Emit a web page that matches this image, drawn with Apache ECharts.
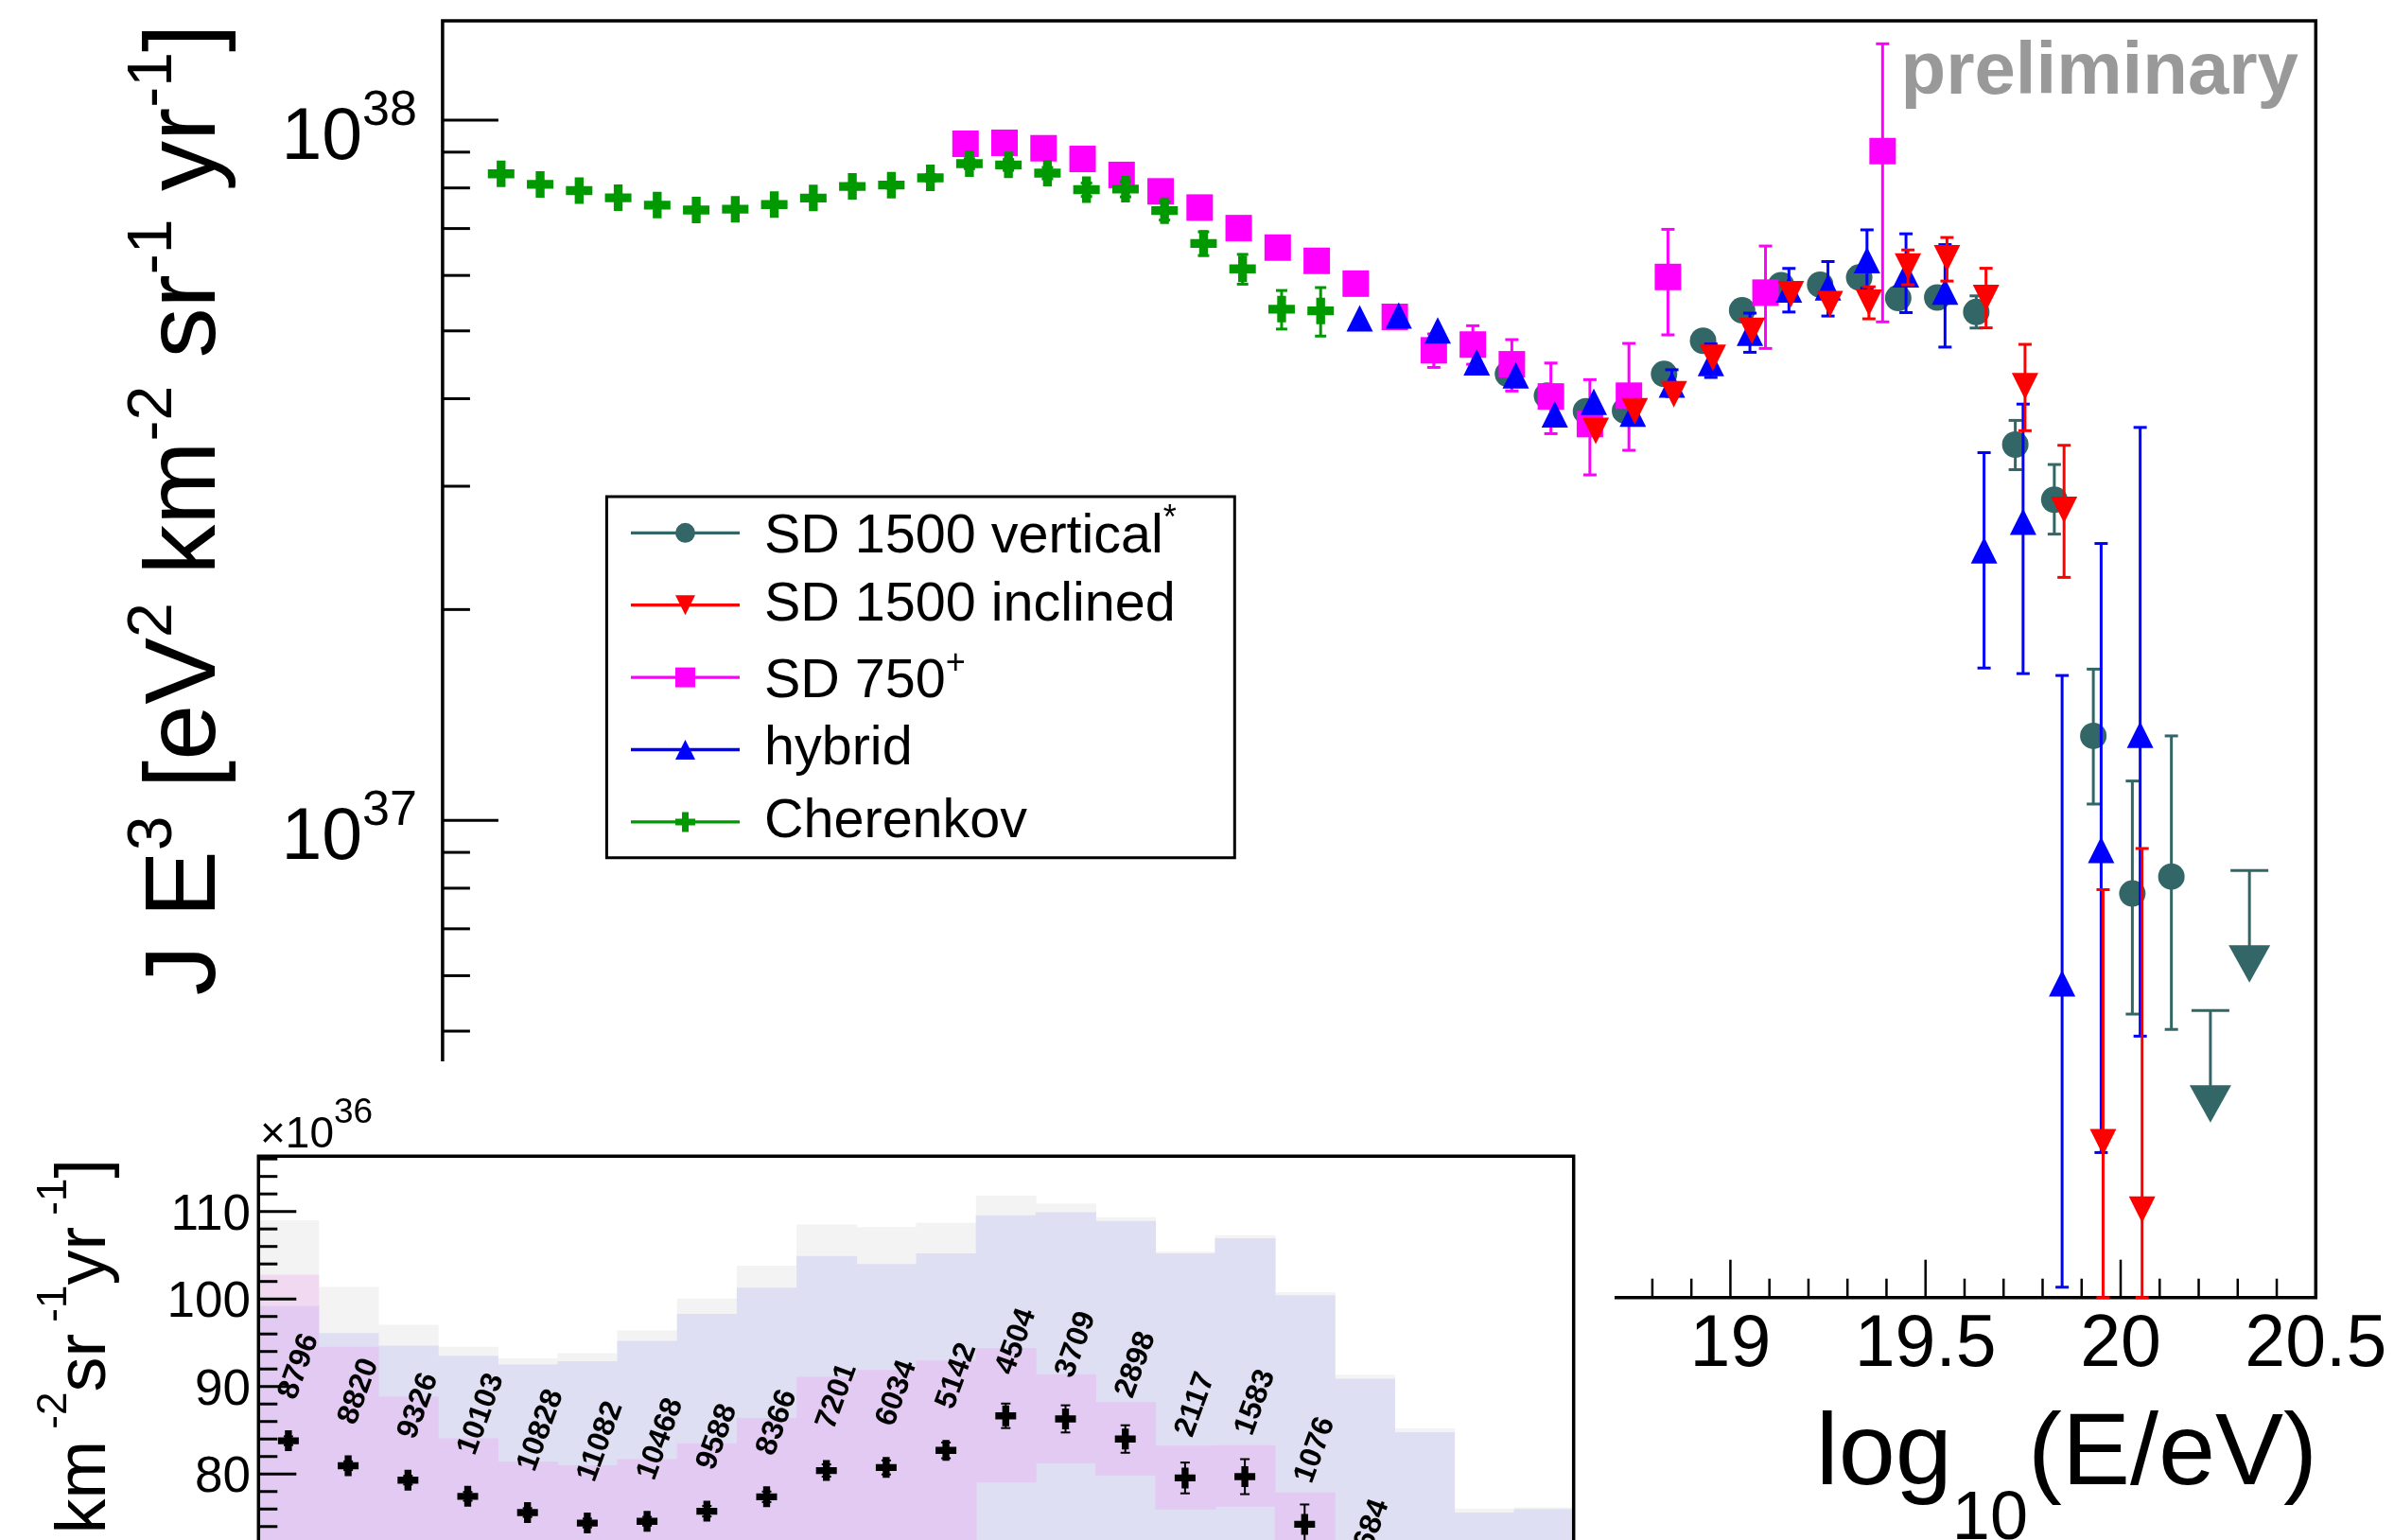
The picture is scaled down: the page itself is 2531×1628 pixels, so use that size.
<!DOCTYPE html>
<html>
<head>
<meta charset="utf-8">
<title>Energy spectrum</title>
<script src="https://cdn.jsdelivr.net/npm/echarts@6/dist/echarts.min.js"></script>
<style>
html,body{margin:0;padding:0;background:#ffffff;}
#chart{width:2531px;height:1628px;}
</style>
</head>
<body>
<div id="chart"></div>
<script>
// ================= DATA =================
// x: log10(E/eV); flux J E^3 in units of 1e36 eV^2 km^-2 sr^-1 yr^-1
const cherE = [15.85,15.95,16.05,16.15,16.25,16.35,16.45,16.55,16.65,16.75,16.85,16.95,17.05,17.15,17.25,17.35,17.45,17.55,17.65,17.75,17.85,17.95];
const cherJ = [83.8,80.95,79.3,77.45,75.6,74.4,74.6,75.75,77.4,80.4,80.75,82.7,86.65,86.3,84.0,79.55,79.7,74.25,66.65,61.3,53.7,53.4];
const cherErr = [0.5,0.5,0.5,0.5,0.5,0.5,0.5,0.6,0.6,0.7,0.8,0.9,1.4,1.55,1.57,1.76,2.0,2.27,2.6,3.0,3.4,4.25];
const cherCounts = ['8796','8820','9326','10103','10828','11082','10468','9588','8366','7201','6034','5142','4504','3709','2898','2117','1583','1076','684'];

const sd750E = [17.04,17.14,17.24,17.34,17.44,17.54,17.64,17.74,17.84,17.94,18.04,18.14,18.24,18.34,18.44,18.54,18.64,18.74,18.84,19.09,19.39];
const sd750J = [92.5,92.8,91.15,88.0,83.5,79.1,75.0,70.1,65.75,62.95,58.4,52.35,46.9,47.8,44.8,40.3,36.8,40.4,59.7,56.7,90.3];
const sd750Lo = [null,null,null,null,null,null,null,null,null,null,null,null,44.34,44.8,41.03,35.66,31.14,33.76,49.35,47.19,51.5];
const sd750Hi = [null,null,null,null,null,null,null,null,null,null,null,null,49.5,50.85,48.58,44.98,42.59,47.98,69.82,66.09,128.5];

const hybE = [18.05,18.15,18.25,18.35,18.45,18.55,18.65,18.75,18.85,18.95,19.05,19.15,19.25,19.35,19.45,19.55,19.65,19.75,19.85,19.95,20.05];
const hybJ = [52.1,52.6,50.1,45.1,43.2,38.0,39.6,38.1,41.9,45.0,49.7,57.3,57.7,63.1,60.2,56.9,24.3,26.7,5.85,9.07,13.25];
const hybLo = [null,null,null,null,null,null,null,null,40.3,42.9,46.6,53.2,52.5,57.5,53.1,47.4,16.5,16.2,2.154,3.354,4.918];
const hybHi = [null,null,null,null,null,null,null,null,44.0,47.9,53.0,61.4,62.8,69.7,68.8,66.4,33.5,39.3,16.1,24.85,36.4];

const vertE = [18.43,18.53,18.63,18.73,18.83,18.93,19.03,19.13,19.23,19.33,19.43,19.53,19.63,19.73,19.83,19.93,20.03,20.13];
const vertJ = [43.4,40.4,38.4,38.45,43.4,48.4,53.5,58.1,58.2,59.6,55.7,55.8,53.2,34.4,28.7,13.2,7.86,8.31];
const vertLo = [null,null,null,null,null,null,null,null,null,null,null,null,50.47,31.68,25.63,10.55,5.288,5.028];
const vertHi = [null,null,null,null,null,null,null,null,null,null,null,null,56.1,37.25,32.22,16.44,11.38,13.2];
const vertUlE = [20.23,20.33];
const vertUlJ = [5.35,8.48];

const inclE = [18.655,18.755,18.855,18.955,19.055,19.155,19.255,19.355,19.455,19.555,19.655,19.755,19.855,19.955,20.055];
const inclJ = [36.0,38.4,40.6,45.75,50.0,56.4,54.6,54.85,61.8,63.5,55.7,41.7,27.75,3.47,2.78];
const inclLo = [null,null,null,null,null,null,null,52.02,58.19,58.9,50.5,36.01,22.23,1.0,1.0];
const inclHi = [null,null,null,null,null,null,null,57.8,65.24,67.97,61.43,47.83,34.32,7.962,9.115];

// inset systematic bands (per Cherenkov bin, units 1e36)
const binGrayHi   = [109.0,101.36,97.04,94.53,93.2,93.8,96.4,100.05,103.8,108.5,108.2,108.7,111.8,110.9,109.35,105.4,107.3,100.78,91.35,85.22,76.06,76.2];
const binBlueHi   = [99.2,96.11,94.67,93.52,92.5,92.9,95.2,98.3,101.3,104.9,104.0,105.2,109.57,109.9,108.9,105.2,106.95,100.42,90.88,84.79,75.6,76.0];
const binPurpleHi = [102.77,94.53,88.83,84.08,81.4,81.0,81.7,83.5,86.4,91.1,91.9,92.97,94.41,91.41,88.21,83.24,83.31,77.9,null,null,null,null];
const binPurpleLo = [null,null,null,null,null,null,null,null,null,null,null,72.4,79.03,81.25,79.85,75.96,76.28,null,null,null,null,null];

// ticks
const mainXMajor = [16,16.5,17,17.5,18,18.5,19,19.5,20,20.5];
const mainXMajorLabels = ['16','16.5','17','17.5','18','18.5','19','19.5','20','20.5'];
const mainYMajor = [10,100];
const mainYMajorExp = ['37','38'];
const mainYMinor = [3,4,5,6,7,8,9,20,30,40,50,60,70,80,90];
const insetYMajor = [60,70,80,90,100,110];
const insetYMajorLabels = ['60','70','80','90','100','110'];
const insetYMinor = [62,64,66,68,72,74,76,78,82,84,86,88,92,94,96,98,102,104,106,108,112,114,116];
const mainXMinor = [];
for (let k = 158; k <= 204; k++) { if (k % 5 !== 0) mainXMinor.push(k / 10); }

const legendItems = [
  {name: 'SD 1500 vertical', sup: '*', color: '#336666', shape: 'circle'},
  {name: 'SD 1500 inclined', sup: '', color: '#ff0000', shape: 'tridown'},
  {name: 'SD 750', sup: '+', color: '#ff00ff', shape: 'square'},
  {name: 'hybrid', sup: '', color: '#0000ff', shape: 'triup'},
  {name: 'Cherenkov', sup: '', color: '#009900', shape: 'cross'}
];

// ================= LAYOUT / STYLE =================
const W = 2531, H = 1628;
const FONT = '"Liberation Sans", Arial, Helvetica, sans-serif';
const MAIN = {left: 467.9, top: 22, width: 1980.4, height: 1349.7};
const INSET = {left: 273.3, top: 1222.3, width: 1390.4, height: 521};
const MAIN_X = [15.7, 20.5], MAIN_Y = [2.082, 138.6];
const INSET_X = [15.8, 18.0], INSET_Y = [60, 116.31];
const COL = {vert: '#336666', incl: '#ff0000', sd750: '#ff00ff', hyb: '#0000ff', cher: '#009900'};
const BAND_COL = ['#f3f3f3', '#dfdff3', '#f2d9f2', '#e2caf2'];
const CROSS = 'path://M1,0H2V1H3V2H2V3H1V2H0V1H1Z';

function rich(parts) { return parts.map(p => '{' + p[0] + '|' + p[1] + '}').join(''); }
function R(size, extra) { return Object.assign({fontSize: size, lineHeight: size, fontFamily: FONT, verticalAlign: 'top'}, extra || {}); }
function align(h, v) { return {align: h, textAlign: h, verticalAlign: v, textVerticalAlign: v}; }

function scatter(xs, ys, symbol, size, color, z, axis, rotate) {
  return {
    type: 'scatter', xAxisIndex: axis, yAxisIndex: axis, z: z, silent: true, animation: false,
    symbol: symbol, symbolSize: size, symbolRotate: rotate || 0,
    itemStyle: {color: color, opacity: 1},
    data: xs.map((x, i) => [x, ys[i]])
  };
}

function errorBars(xs, lo, hi, color, axis, z, lw, cap) {
  const data = [];
  xs.forEach((x, i) => { if (lo[i] != null && hi[i] != null) data.push([x, lo[i], hi[i]]); });
  return {
    type: 'custom', xAxisIndex: axis, yAxisIndex: axis, z: z, silent: true, animation: false, data: data,
    renderItem: function (params, api) {
      const cs = params.coordSys;
      const x = api.value(0);
      const pLo = api.coord([x, api.value(1)]);
      const pHi = api.coord([x, api.value(2)]);
      const yLo = Math.min(pLo[1], cs.y + cs.height);
      const yHi = Math.max(pHi[1], cs.y);
      const h = cap / 2, st = {stroke: color, lineWidth: lw};
      const px = pLo[0];
      return {type: 'group', children: [
        {type: 'line', shape: {x1: px, y1: yLo, x2: px, y2: yHi}, style: st},
        {type: 'line', shape: {x1: px - h, y1: yLo, x2: px + h, y2: yLo}, style: st},
        {type: 'line', shape: {x1: px - h, y1: yHi, x2: px + h, y2: yHi}, style: st}
      ]};
    }
  };
}

function upperLimits(xs, ys, color, z) {
  return {
    type: 'custom', xAxisIndex: 0, yAxisIndex: 0, z: z, silent: true, animation: false,
    data: xs.map((x, i) => [x, ys[i]]),
    renderItem: function (params, api) {
      const p = api.coord([api.value(0), api.value(1)]);
      const x = p[0], y = p[1], st = {stroke: color, lineWidth: 3};
      return {type: 'group', children: [
        {type: 'line', shape: {x1: x - 20, y1: y, x2: x + 20, y2: y}, style: st},
        {type: 'line', shape: {x1: x, y1: y, x2: x, y2: y + 80}, style: st},
        {type: 'polygon', shape: {points: [[x - 22, y + 79], [x + 22, y + 79], [x, y + 118.5]]}, style: {fill: color}}
      ]};
    }
  };
}

function tickSeries(axis, dim, values, ref, len, lw, z) {
  return {
    type: 'custom', xAxisIndex: axis, yAxisIndex: axis, z: z, silent: true, animation: false,
    data: values.map(v => dim === 'x' ? [v, ref] : [ref, v]),
    renderItem: function (params, api) {
      const cs = params.coordSys;
      const p = api.coord([api.value(0), api.value(1)]);
      const st = {stroke: '#000', lineWidth: lw};
      if (dim === 'x') {
        const b = cs.y + cs.height;
        return {type: 'line', shape: {x1: p[0], y1: b, x2: p[0], y2: b - len}, style: st};
      }
      return {type: 'line', shape: {x1: cs.x, y1: p[1], x2: cs.x + len, y2: p[1]}, style: st};
    }
  };
}

function labelSeries(axis, data, z, makeEl) {
  return {
    type: 'custom', xAxisIndex: axis, yAxisIndex: axis, z: z, silent: true, animation: false, data: data,
    renderItem: function (params, api) {
      const cs = params.coordSys;
      const p = api.coord([api.value(0), api.value(1)]);
      return makeEl(cs, p, api.value(2));
    }
  };
}

// ================= SERIES =================
const series = [];
// main: drawing order as in the reference
series.push(errorBars(vertE, vertLo, vertHi, COL.vert, 0, 10, 3, 14));
series.push(upperLimits(vertUlE, vertUlJ, COL.vert, 11));
series.push(scatter(vertE, vertJ, 'circle', 28, COL.vert, 11, 0));
series.push(errorBars(sd750E, sd750Lo, sd750Hi, COL.sd750, 0, 12, 3, 14));
series.push(scatter(sd750E, sd750J, 'rect', 28, COL.sd750, 13, 0));
const cherLo = cherJ.map((v, i) => v - cherErr[i]);
const cherHi = cherJ.map((v, i) => v + cherErr[i]);
series.push(errorBars(cherE, cherLo, cherHi, COL.cher, 0, 14, 3, 12));
series.push(scatter(cherE, cherJ, CROSS, 28, COL.cher, 15, 0));
series.push(errorBars(hybE, hybLo, hybHi, COL.hyb, 0, 16, 3, 14));
series.push(scatter(hybE, hybJ, 'triangle', 28, COL.hyb, 17, 0));
series.push(errorBars(inclE, inclLo, inclHi, COL.incl, 0, 18, 3, 14));
series.push(scatter(inclE, inclJ, 'triangle', 28, COL.incl, 19, 0, 180));

// main axes ticks and labels
series.push(tickSeries(0, 'x', mainXMajor, MAIN_Y[0], 40, 2.5, 20));
series.push(tickSeries(0, 'x', mainXMinor, MAIN_Y[0], 20, 2.5, 20));
series.push(tickSeries(0, 'y', mainYMajor, MAIN_X[0], 59, 3, 20));
series.push(tickSeries(0, 'y', mainYMinor, MAIN_X[0], 29, 3, 20));
series.push(labelSeries(0, mainXMajor.map((v, i) => [v, MAIN_Y[0], i]), 20, function (cs, p, i) {
  return {type: 'text', x: p[0], y: cs.y + cs.height + 51.3,
    style: Object.assign({text: mainXMajorLabels[i], fontSize: 77, fontFamily: FONT, fill: '#000'}, align('center', 'middle'))};
}));
series.push(labelSeries(0, mainYMajor.map((v, i) => [MAIN_X[0], v, i]), 20, function (cs, p, i) {
  return {type: 'text', x: cs.x - 27, y: p[1] + 3,
    style: Object.assign({text: rich([['m', '10'], ['s', mainYMajorExp[i]]]),
      rich: {m: R(77, {padding: [16.7, 0, 0, 0]}), s: R(52)}, fill: '#000'}, align('right', 'middle'))};
}));

// inset
const bandRects = [];
cherE.forEach((e, i) => {
  const x0 = e - 0.05, x1 = e + 0.05;
  bandRects.push([x0, x1, INSET_Y[0], binGrayHi[i], 0]);
  bandRects.push([x0, x1, INSET_Y[0], binBlueHi[i], 1]);
  if (binPurpleHi[i] != null) {
    const lo = binPurpleLo[i] != null ? binPurpleLo[i] : INSET_Y[0];
    if (binPurpleHi[i] > binBlueHi[i]) bandRects.push([x0, x1, binBlueHi[i], binPurpleHi[i], 2]);
    bandRects.push([x0, x1, lo, Math.min(binPurpleHi[i], binBlueHi[i]), 3]);
  }
});
series.push({
  type: 'custom', xAxisIndex: 1, yAxisIndex: 1, z: 60, silent: true, animation: false, data: bandRects,
  renderItem: function (params, api) {
    const a = api.coord([api.value(0), api.value(3)]);
    const b = api.coord([api.value(1), api.value(2)]);
    const layer = api.value(4);
    return {type: 'rect', z2: layer, shape: {x: a[0], y: a[1], width: b[0] - a[0] + 0.8, height: b[1] - a[1]},
      style: {fill: BAND_COL[layer]}};
  }
});
series.push(errorBars(cherE, cherLo, cherHi, '#000', 1, 62, 2, 10));
series.push(scatter(cherE, cherJ, CROSS, 22, '#000', 63, 1));
series.push(labelSeries(1, cherCounts.map((c, i) => [cherE[i], cherJ[i], i]), 64, function (cs, p, i) {
  return {type: 'text', x: p[0] - 1, y: p[1] - 45, rotation: 70 * Math.PI / 180,
    style: Object.assign({text: cherCounts[i], fontSize: 32, fontWeight: 'bold', fontFamily: FONT, fill: '#000'}, align('left', 'middle'))};
}));
series.push(tickSeries(1, 'y', insetYMajor, INSET_X[0], 40, 3, 65));
series.push(tickSeries(1, 'y', insetYMinor, INSET_X[0], 20, 3, 65));
series.push(labelSeries(1, insetYMajor.map((v, i) => [INSET_X[0], v, i]), 65, function (cs, p, i) {
  return {type: 'text', x: cs.x - 8.3, y: p[1] + 4.4,
    style: Object.assign({text: insetYMajorLabels[i], fontSize: 53, fontFamily: FONT, fill: '#000'}, align('right', 'middle'))};
}));

// ================= GRAPHIC (texts, legend, inset pad) =================
const yTitleParts = [['m', 'J E'], ['s', '3'], ['m', ' [eV'], ['s', '2'], ['m', ' km'], ['s', '-2'], ['m', ' sr'], ['s', '-1'], ['m', ' yr'], ['s', '-1'], ['m', ']']];
const insetYTitleParts = [['m', 'J E'], ['s', '3'], ['m', ' [eV'], ['s', '2'], ['m', ' km'], ['s', ' -2'], ['m', 'sr'], ['s', ' -1'], ['m', 'yr'], ['s', ' -1'], ['m', ']']];

const graphics = [
  {type: 'rect', z: 50, silent: true, shape: {x: 0, y: 1122, width: 1707, height: H - 1122 + 10}, style: {fill: '#ffffff'}},
  {type: 'rect', z: 70, silent: true, shape: {x: INSET.left, y: INSET.top, width: INSET.width, height: INSET.height}, style: {fill: 'none', stroke: '#000', lineWidth: 3.5}},
  {type: 'text', z: 70, silent: true, x: 275, y: 1158,
    style: Object.assign({text: rich([['m', '\u00d710'], ['s', '36']]), rich: {m: R(46, {padding: [19.4, 0, 0, 0]}), s: R(37)}, fill: '#000'}, align('left', 'top'))},
  {type: 'text', z: 70, silent: true, x: 73.2, y: 1225, rotation: Math.PI / 2,
    style: Object.assign({text: rich(insetYTitleParts), rich: {m: R(74, {padding: [17.6, 0, 0, 0]}), s: R(44)}, fill: '#000'}, align('right', 'middle'))},
  {type: 'text', z: 40, silent: true, x: 182.6, y: 539, rotation: Math.PI / 2,
    style: Object.assign({text: rich(yTitleParts), rich: {m: R(106, {padding: [15.6, 0, 0, 0]}), s: R(66)}, fill: '#000'}, align('center', 'middle'))},
  {type: 'text', z: 40, silent: true, x: 2450, y: 1485.5,
    style: Object.assign({text: rich([['m', 'log'], ['s', '10'], ['m', '(E/eV)']]), rich: {m: R(108), s: R(72, {padding: [85.8, 0, 0, 0]})}, fill: '#000'}, align('right', 'top'))},
  {type: 'text', z: 40, silent: true, x: 2430, y: 77.6,
    style: Object.assign({text: 'preliminary', fontSize: 78, fontWeight: 'bold', fontFamily: FONT, fill: '#999999'}, align('right', 'middle'))}
];

// legend
const LG = {x: 641.4, y: 525, w: 663.9, h: 381.7, row0: 563.3, dy: 76.4, lx0: 667, lx1: 782, mx: 724.5, tx: 808, font: 57.5};
const legendChildren = [
  {type: 'rect', shape: {x: LG.x, y: LG.y, width: LG.w, height: LG.h}, style: {fill: '#ffffff', stroke: '#000', lineWidth: 3}}
];
legendItems.forEach((it, i) => {
  const cy = LG.row0 + i * LG.dy, cx = LG.mx, r = 10.5;
  legendChildren.push({type: 'line', shape: {x1: LG.lx0, y1: cy, x2: LG.lx1, y2: cy}, style: {stroke: it.color, lineWidth: 3.3}});
  let mk;
  if (it.shape === 'circle') mk = {type: 'circle', shape: {cx: cx, cy: cy, r: r}};
  else if (it.shape === 'square') mk = {type: 'rect', shape: {x: cx - r, y: cy - r, width: 2 * r, height: 2 * r}};
  else if (it.shape === 'triup') mk = {type: 'polygon', shape: {points: [[cx, cy - r], [cx + r, cy + r], [cx - r, cy + r]]}};
  else if (it.shape === 'tridown') mk = {type: 'polygon', shape: {points: [[cx - r, cy - r], [cx + r, cy - r], [cx, cy + r]]}};
  else {
    const a = r, q = r / 3;
    mk = {type: 'polygon', shape: {points: [[cx - q, cy - a], [cx + q, cy - a], [cx + q, cy - q], [cx + a, cy - q], [cx + a, cy + q], [cx + q, cy + q], [cx + q, cy + a], [cx - q, cy + a], [cx - q, cy + q], [cx - a, cy + q], [cx - a, cy - q], [cx - q, cy - q]]}};
  }
  mk.style = {fill: it.color};
  legendChildren.push(mk);
  if (it.sup) {
    legendChildren.push({type: 'text', x: LG.tx, y: cy - 3,
      style: Object.assign({text: rich([['m', it.name], ['s', it.sup]]), rich: {m: R(LG.font, {padding: [7.8, 0, 0, 0]}), s: R(36)}, fill: '#000'}, align('left', 'middle'))});
  } else {
    legendChildren.push({type: 'text', x: LG.tx, y: cy,
      style: Object.assign({text: it.name, fontSize: LG.font, fontFamily: FONT, fill: '#000'}, align('left', 'middle'))});
  }
});
graphics.push({type: 'group', z: 40, silent: true, children: legendChildren.map(c => Object.assign({z: 40}, c))});

// ================= OPTION =================
const chart = echarts.init(document.getElementById('chart'), null, {renderer: 'canvas', width: W, height: H});
chart.setOption({
  animation: false,
  backgroundColor: '#ffffff',
  grid: [
    {left: MAIN.left, top: MAIN.top, width: MAIN.width, height: MAIN.height, show: true, borderColor: '#000', borderWidth: 3.5, backgroundColor: 'transparent', containLabel: false, outerBoundsMode: 'none'},
    {left: INSET.left, top: INSET.top, width: INSET.width, height: INSET.height, show: false, containLabel: false, outerBoundsMode: 'none'}
  ],
  xAxis: [
    {gridIndex: 0, type: 'value', min: MAIN_X[0], max: MAIN_X[1], show: false},
    {gridIndex: 1, type: 'value', min: INSET_X[0], max: INSET_X[1], show: false}
  ],
  yAxis: [
    {gridIndex: 0, type: 'log', logBase: 10, min: MAIN_Y[0], max: MAIN_Y[1], show: false},
    {gridIndex: 1, type: 'value', min: INSET_Y[0], max: INSET_Y[1], show: false}
  ],
  series: series,
  graphic: {elements: graphics}
});
</script>
</body>
</html>
